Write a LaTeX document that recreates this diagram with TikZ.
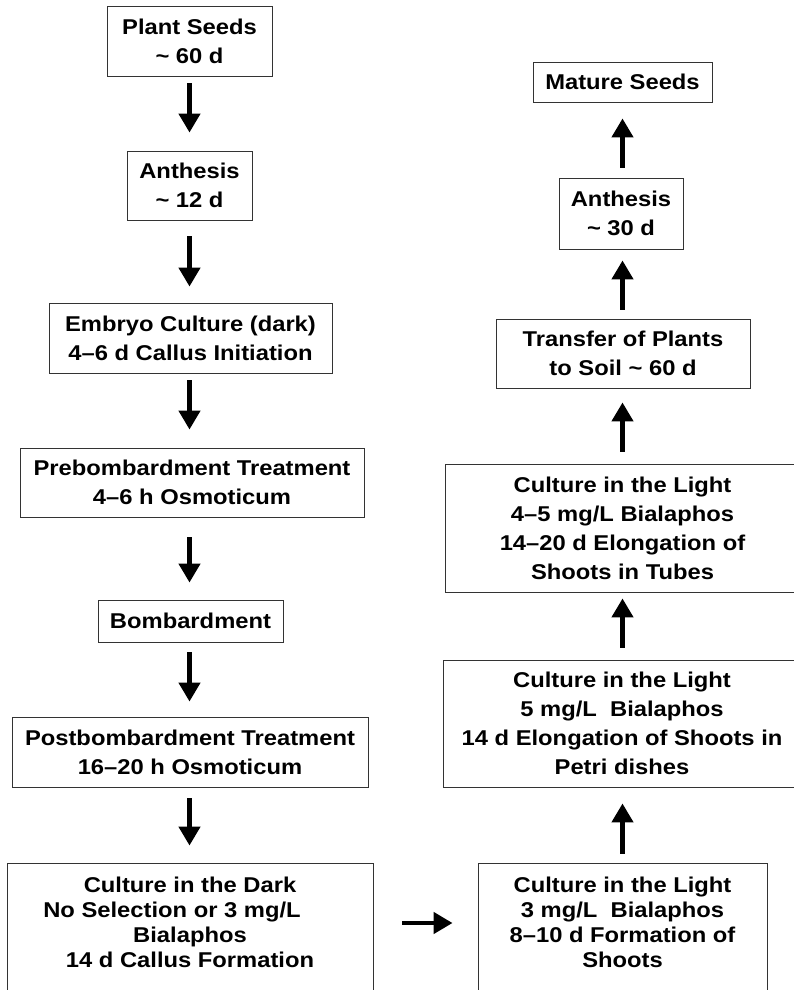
\documentclass[tikz,border=0pt]{standalone}
\usepackage{fontspec}
\setmainfont[FakeStretch=1.11]{Liberation Sans}
\usetikzlibrary{arrows.meta}
\begin{document}
\begin{tikzpicture}[x=1pt,y=-1pt,
  box/.style={draw=black!80, line width=0.9pt, inner sep=0pt, align=center,
    font=\bfseries\fontsize{21.4}{29}\selectfont},
  boxtight/.style={font=\bfseries\fontsize{21.4}{25}\selectfont},
  arr/.style={line width=4.5pt, -{Triangle[length=19pt,width=21pt]}}]
\useasboundingbox (0,0) rectangle (793,990);

% left column
\node[box, minimum width=165pt, minimum height=70pt] (seeds) at (189.5,41) {Plant Seeds\\\textasciitilde\ 60 d};
\node[box, minimum width=125pt, minimum height=69pt] (anthA) at (189.5,185.5) {Anthesis\\\textasciitilde\ 12 d};
\node[box, minimum width=283pt, minimum height=70pt] (embryo) at (190.5,338) {Embryo Culture (dark)\\4–6 d Callus Initiation};
\node[box, minimum width=344pt, minimum height=69pt] (prebomb) at (192,482.5) {Prebombardment Treatment\\4–6 h Osmoticum};
\node[box, minimum width=185pt, minimum height=42pt] (bomb) at (190.5,621) {Bombardment};
\node[box, minimum width=356pt, minimum height=70pt] (postbomb) at (190,752) {Postbombardment Treatment\\16–20 h Osmoticum};
\node[box, boxtight, minimum width=366pt, minimum height=151pt] (dark) at (190,938.5) {Culture in the Dark\\No Selection or 3 mg/L\kern36pt\\Bialaphos\\14 d Callus Formation\\\strut};

% right column
\node[box, minimum width=179pt, minimum height=40pt] (mature) at (622.5,82) {Mature Seeds};
\node[box, minimum width=124pt, minimum height=71pt] (anthB) at (621,213.5) {Anthesis\\\textasciitilde\ 30 d};
\node[box, minimum width=254pt, minimum height=69pt] (transfer) at (623,353.5) {Transfer of Plants\\to Soil \textasciitilde\ 60 d};
\node[box, minimum width=355pt, minimum height=128pt] (lightB) at (622.5,528) {Culture in the Light\\4–5 mg/L Bialaphos\\14–20 d Elongation of\\Shoots in Tubes};
\node[box, minimum width=358pt, minimum height=127pt] (petri) at (622,723.5) {Culture in the Light\\5 mg/L\ \ Bialaphos\\14 d Elongation of Shoots in\\Petri dishes};
\node[box, boxtight, minimum width=289pt, minimum height=151pt] (lightA) at (622.5,938.5) {Culture in the Light\\3 mg/L\ \ Bialaphos\\8–10 d Formation of\\Shoots\\\strut};

% left arrows (down)
\draw[arr, shorten <=7pt, shorten >=18pt] (seeds.south) -- (seeds.south |- anthA.north);
\draw[arr, shorten <=16pt, shorten >=16pt] (anthA.south) -- (anthA.south |- embryo.north);
\draw[arr, shorten <=7pt, shorten >=18pt] (embryo.south -| anthA.south) -- (anthA.south |- prebomb.north);
\draw[arr, shorten <=20pt, shorten >=17pt] (prebomb.south -| anthA.south) -- (anthA.south |- bomb.north);
\draw[arr, shorten <=10pt, shorten >=15pt] (bomb.south -| anthA.south) -- (anthA.south |- postbomb.north);
\draw[arr, shorten <=11pt, shorten >=17pt] (postbomb.south -| anthA.south) -- (anthA.south |- dark.north);

% horizontal arrow
\coordinate (hy) at (0,923);
\draw[arr, shorten <=29pt, shorten >=25pt] (dark.east |- hy) -- (lightA.west |- hy);

% right arrows (up)
\draw[arr, shorten <=9pt, shorten >=16pt] (lightA.north) -- (lightA.north |- petri.south);
\draw[arr, shorten <=12pt, shorten >=6pt] (petri.north -| lightA.north) -- (lightA.north |- lightB.south);
\draw[arr, shorten <=12pt, shorten >=14pt] (lightB.north -| lightA.north) -- (lightA.north |- transfer.south);
\draw[arr, shorten <=9pt, shorten >=11pt] (transfer.north -| lightA.north) -- (lightA.north |- anthB.south);
\draw[arr, shorten <=10pt, shorten >=16pt] (anthB.north -| lightA.north) -- (lightA.north |- mature.south);
\end{tikzpicture}
\end{document}
